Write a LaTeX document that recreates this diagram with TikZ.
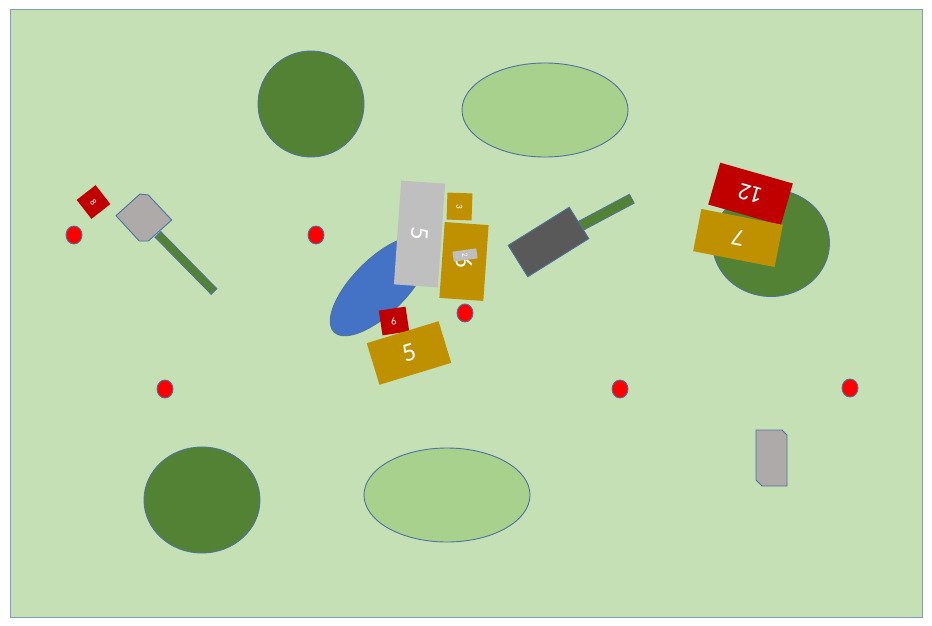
\documentclass[tikz,border=0pt]{standalone}
\usepackage{fontspec}
\setmainfont{Carlito}
\usetikzlibrary{shapes.geometric}
\definecolor{bggreen}{HTML}{C5E0B4}
\definecolor{dkgreen}{HTML}{548235}
\definecolor{ltgreen}{HTML}{A9D18E}
\definecolor{edge}{HTML}{4E73A0}
\definecolor{frame}{HTML}{7F9CC0}
\definecolor{gold}{HTML}{BF9000}
\definecolor{dred}{HTML}{C00000}
\definecolor{lgrey}{HTML}{BFBFBF}
\definecolor{mgrey}{HTML}{AEAAAA}
\definecolor{dgrey}{HTML}{595959}
\definecolor{blueish}{HTML}{4472C4}
\newcommand\myfs[1]{\fontsize{#1}{#1}\selectfont}
\begin{document}
\begin{tikzpicture}[x=1pt,y=-1pt,
  shp/.style={draw=edge,line width=0.9pt},
  oval/.style={ellipse,shp,inner sep=0pt},
  reddot/.style={oval,fill=red,minimum width=16pt,minimum height=18pt},
  tag/.style={rectangle,inner sep=0pt,draw=none},
  bar/.style={rectangle,shp,inner sep=0pt},
  lbl/.style={inner sep=0pt,text=white}
]
\fill[white] (0,0) rectangle (932,626);
\useasboundingbox (0,0) rectangle (932,626);
\draw[frame,fill=bggreen,line width=0.9pt] (10,9) rectangle (922,617);

% trees and bushes
\node[oval,fill=dkgreen,minimum width=106pt,minimum height=106pt] (treeA) at (311,104) {};
\node[oval,fill=ltgreen,minimum width=166pt,minimum height=94pt] (bushA) at (545,110) {};
\node[oval,fill=dkgreen,minimum width=116pt,minimum height=106pt] (treeB) at (202,500) {};
\node[oval,fill=ltgreen,minimum width=166pt,minimum height=94pt] (bushB) at (447,495) {};
\node[oval,fill=dkgreen,minimum width=117pt,minimum height=107pt] (treeC) at (771,243) {};

% red dots
\node[reddot] (d1) at (74,235) {};
\node[reddot] (d2) at (316,235) {};
\node[reddot] (d3) at (465,313) {};
\node[reddot] (d4) at (165,389) {};
\node[reddot] (d5) at (620,389) {};
\node[reddot] (d6) at (850,388) {};
\node[reddot] (d7) at (772,238) {};

% shovel (left)
\node[bar,fill=dkgreen,minimum width=80pt,minimum height=8pt,rotate=-45.5] (handleA) at (186,263) {};
\draw[shp,fill=mgrey] (116,215.7) -- (140,194) -- (148.3,195) -- (171.7,220) -- (148.3,241) -- (139.3,241) -- cycle;
\node[tag,fill=dred,minimum width=24pt,minimum height=24pt,rotate=38] (r8) at (93.5,202) {};
\node[lbl,font=\myfs{9},rotate=-52] (r8t) at (r8) {8};

% blue ellipse and central cluster
\node[oval,fill=blueish,minimum width=130pt,minimum height=54pt,rotate=45] (pond) at (380,286) {};
\node[tag,fill=lgrey,minimum width=44pt,minimum height=104pt,rotate=-4] (g5) at (419.5,234) {};
\node[lbl,font=\myfs{26},rotate=-94] (g5t) at (g5) {5};
\node[tag,fill=gold,minimum width=25pt,minimum height=27pt,rotate=-2] (y3) at (459.5,206.5) {};
\node[lbl,font=\myfs{9},rotate=-92] (y3t) at (y3) {3};
\node[tag,fill=gold,minimum width=44pt,minimum height=76pt,rotate=-4] (y6) at (464,261.5) {};
\node[lbl,font=\myfs{24},rotate=-94] (y6t) at ([yshift=-1pt]y6.center) {6};
\node[tag,fill=lgrey,minimum width=24pt,minimum height=10pt,rotate=8] (g2) at (465,255) {};
\node[lbl,font=\myfs{8},rotate=-82] (g2t) at (g2) {2};
\node[tag,fill=dred,minimum width=27pt,minimum height=25pt,rotate=8.5] (r9) at (394,321) {};
\node[lbl,font=\myfs{11},rotate=188.5] (r9t) at (r9) {9};
\node[tag,fill=gold,minimum width=75pt,minimum height=43.5pt,rotate=17] (y5) at (409,353) {};
\node[lbl,font=\myfs{26},rotate=17] (y5t) at (y5) {5};

% grill
\node[bar,fill=dkgreen,minimum width=63pt,minimum height=10pt,rotate=28] (handleB) at (604,213.5) {};
\node[bar,fill=dgrey,minimum width=72pt,minimum height=37pt,rotate=32] (grill) at (548.5,242) {};

% right cluster
\node[tag,fill=dred,minimum width=75.5pt,minimum height=43.5pt,rotate=-16] (r12) at (750.5,194) {};
\node[lbl,font=\myfs{24},rotate=164] (r12t) at (r12) {12};
\node[tag,fill=gold,minimum width=83pt,minimum height=43pt,rotate=-11] (y7) at (738,238) {};
\node[lbl,font=\myfs{24},rotate=169] (y7t) at (y7) {7};

% grey shape bottom right
\draw[shp,fill=mgrey] (756,430) -- (782,430) -- (787,435) -- (787,486) -- (762,486) -- (756,480) -- cycle;
\end{tikzpicture}
\end{document}
